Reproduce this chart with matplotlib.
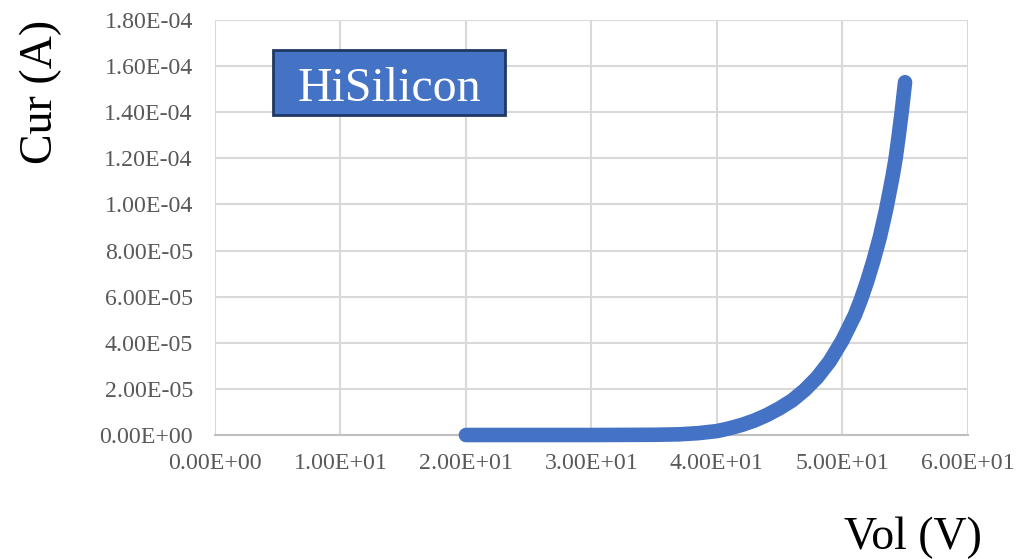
import numpy as np
import matplotlib
matplotlib.use("Agg")
import matplotlib.pyplot as plt
from matplotlib.patches import Rectangle

plt.rcParams.update({"font.family": "Liberation Serif"})

vol = [20, 25, 30, 35, 37, 38.5, 40, 41, 42, 43, 44, 45, 46, 47, 48, 49, 50, 51, 51.5, 52, 52.5,
       53, 53.5, 54, 54.25, 54.5, 54.75, 55]
cur = [0, 0, 0, 1e-7, 3e-7, 8e-7, 1.7e-6, 2.9e-6, 4.4e-6, 6.3e-6, 8.7e-6, 1.16e-5, 1.5e-5, 1.95e-5,
       2.5e-5, 3.2e-5, 4.1e-5, 5.2e-5, 5.9e-5, 6.7e-5, 7.6e-5, 8.6e-5, 9.8e-5, 1.12e-4, 1.2e-4,
       1.3e-4, 1.41e-4, 1.53e-4]
xticks = np.arange(0, 61, 10)
yticks = np.arange(0, 1.81e-4, 2e-5)

BLUE, GRID, TXT = "#4472C4", "#D9D9D9", "#595959"

fig = plt.figure(figsize=(10.2, 5.59), dpi=100)
ax = fig.add_axes([0.2108, 0.2218, 0.738, 0.7424])
ax.plot(vol, cur, color=BLUE, lw=10.5, solid_capstyle="round", solid_joinstyle="round", clip_on=False, zorder=3)

ax.set_xlim(0, 60); ax.set_ylim(0, 1.8e-4)
ax.set_xticks(xticks); ax.set_yticks(yticks)
ax.set_xticklabels([f"{v:.2E}" for v in xticks])
ax.set_yticklabels([f"{v:.2E}" for v in yticks])
ax.tick_params(length=0, labelsize=17.2, labelcolor=TXT)
ax.tick_params(axis="x", pad=13); ax.tick_params(axis="y", pad=16)
ax.grid(color=GRID, lw=1.5); ax.set_axisbelow(True)
for s in ["top", "right", "left"]: ax.spines[s].set_visible(False)
ax.spines["bottom"].set_color("#BFBFBF"); ax.spines["bottom"].set_linewidth(1.5)

fig.text(0.04, 0.835, "Cur (A)", rotation=90, fontsize=33, ha="center", va="center")
fig.text(0.895, 0.038, "Vol (V)", fontsize=33, ha="center", va="center")

# label box
fig.patches.append(Rectangle((0.2676, 0.7943), 0.2275, 0.1163, transform=fig.transFigure,
                             fc=BLUE, ec="#1F3864", lw=2, zorder=5))
fig.text(0.3814, 0.8193, "HiSilicon", fontsize=34.5, color="white", ha="center", va="baseline", zorder=6)

fig.savefig("out.png", dpi=100)
